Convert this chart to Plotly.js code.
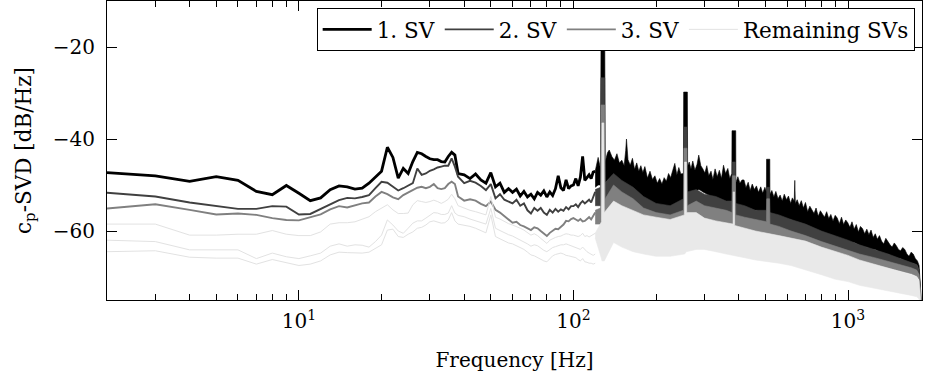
<!DOCTYPE html>
<html><head><meta charset="utf-8">
<script src="https://cdn.plot.ly/plotly-3.0.1.min.js"></script>
<style>html,body{margin:0;padding:0;background:#fff}#chart{width:926px;height:378px}</style>
</head><body><div id="chart"></div>
<script>
// ---- low-frequency range (individual lines) ----
const fLow = [2,3,4,5,6,7,8,9,10,11,12,13,14,15,16,17,18,19,20,21,22,23,24,25,26,27,28,29,30,31,32,33,34,35,36,37,38,
  40,42,44,46,48,50,52,54,56,58,60,62,64,66,68,70,72,74,76,78,80,82,84,86,88,90,92,94,96,98,100,102,104,106,108,110,112,114,116,118,120];
const sv1Low = [-47.3,-48.0,-49.2,-48.2,-49.0,-51.4,-52.1,-50.1,-51.8,-53.4,-52.8,-51.0,-50.2,-50.4,-50.9,-50.7,-49.6,-48.3,-47.0,-41.8,-44.0,-48.5,-46.4,-47.5,-44.9,-42.9,-43.2,-43.8,-44.3,-44.5,-44.5,-44.9,-45.0,-43.8,-42.9,-43.5,-47.5,
  -47.8,-48.6,-47.6,-48.9,-49.6,-47.3,-50.4,-49.6,-51.6,-50.8,-51.6,-50.9,-52.4,-51.4,-52.6,-52.0,-53.0,-51.6,-52.2,-51.3,-52.6,-51.5,-52.3,-50.8,-48.0,-50.6,-51.2,-48.9,-50.8,-50.2,-50.0,-48.6,-50.2,-48.3,-43.8,-49.0,-48.4,-47.8,-48.6,-47.2,-47.0];
const sv2Low = [-51.7,-52.5,-53.8,-54.6,-55.2,-55.2,-54.6,-54.7,-56.4,-56.3,-55.2,-54.1,-53.3,-52.8,-52.9,-52.6,-52.2,-50.7,-49.3,-49.5,-50.4,-51.2,-50.7,-50.2,-49.6,-46.4,-47.8,-47.5,-46.9,-46.6,-46.2,-46.0,-45.8,-45.8,-44.2,-46.0,-48.2,
  -49.6,-49.1,-49.5,-50.2,-51.1,-49.8,-52.9,-52.0,-53.2,-53.6,-54.0,-53.2,-54.5,-54.0,-55.5,-56.2,-55.0,-55.6,-55.0,-56.0,-56.5,-55.4,-56.0,-55.2,-55.8,-55.3,-55.6,-54.8,-55.3,-54.6,-54.6,-54.2,-54.8,-54.0,-53.5,-54.0,-53.6,-53.2,-53.8,-52.8,-51.5];
const sv3Low = [-55.1,-54.2,-55.4,-56.4,-56.2,-56.5,-57.2,-57.6,-57.7,-57.1,-56.4,-55.3,-54.6,-54.9,-54.4,-54.0,-53.8,-52.5,-51.5,-52.0,-52.7,-53.1,-52.2,-51.7,-51.1,-50.6,-50.4,-50.7,-50.4,-49.8,-50.7,-50.9,-50.7,-49.8,-49.3,-49.8,-52.5,
  -53.4,-53.1,-53.4,-54.1,-54.6,-53.6,-55.4,-56.0,-56.8,-57.6,-58.2,-58.0,-58.7,-59.0,-59.5,-59.8,-59.2,-59.4,-60.0,-60.6,-61.1,-60.4,-60.0,-59.5,-59.6,-59.1,-58.6,-57.8,-57.9,-57.4,-57.2,-57.5,-57.8,-57.4,-57.9,-57.8,-57.4,-57.0,-57.5,-56.8,-56.0];
const rem1Low = [-58.5,-58.5,-60.9,-60.9,-60.7,-60.7,-59.9,-60.7,-61.0,-61.0,-60.2,-58.5,-58.2,-58.2,-58.0,-57.5,-56.9,-55.8,-55.1,-54.3,-55.4,-56.2,-56.2,-56.1,-54.3,-53.4,-53.6,-53.8,-53.6,-53.3,-53.6,-54.0,-53.6,-53.1,-52.0,-53.0,-54.5,
  -55.1,-55.5,-55.8,-56.2,-56.5,-52.5,-57.0,-57.4,-58.0,-58.4,-58.7,-59.0,-59.4,-59.8,-60.4,-60.9,-60.6,-61.0,-61.6,-62.2,-62.7,-62.0,-61.6,-61.4,-61.2,-61.1,-60.8,-60.6,-60.7,-60.9,-60.9,-61.0,-61.2,-61.0,-60.5,-61.2,-61.0,-61.3,-61.0,-60.6,-60.5];
const rem2Low = [-62.0,-62.3,-64.1,-64.1,-64.1,-66.0,-64.8,-65.6,-66.0,-65.4,-64.8,-63.3,-62.8,-63.3,-63.0,-63.1,-63.5,-62.3,-60.9,-57.6,-58.7,-60.0,-60.5,-59.4,-58.3,-57.8,-57.8,-57.2,-56.5,-56.0,-56.1,-56.4,-56.4,-56.1,-54.5,-56.1,-56.6,
  -56.9,-57.4,-57.8,-58.2,-58.5,-55.1,-59.4,-59.9,-60.4,-60.8,-61.1,-61.5,-61.9,-62.3,-62.8,-63.3,-63.0,-63.2,-63.8,-64.2,-64.5,-64.0,-63.6,-63.4,-63.2,-63.0,-63.0,-62.8,-63.0,-63.2,-63.3,-63.5,-63.8,-64.0,-63.5,-64.1,-64.5,-64.8,-65.0,-65.3,-65.0];
const rem3Low = [-64.5,-64.3,-65.7,-65.9,-65.9,-67.2,-66.2,-66.9,-67.5,-67.2,-66.5,-65.2,-64.6,-64.7,-64.8,-64.8,-64.6,-63.8,-63.0,-59.8,-59.6,-61.2,-61.4,-60.7,-60.2,-59.4,-59.2,-58.7,-58.0,-57.8,-58.0,-58.3,-58.2,-57.6,-56.0,-57.8,-58.5,
  -58.7,-59.0,-59.4,-59.9,-60.4,-56.5,-61.2,-61.7,-62.2,-62.6,-62.8,-63.2,-63.6,-64.0,-64.6,-65.2,-65.4,-65.8,-66.2,-66.5,-66.7,-66.0,-65.4,-65.1,-65.0,-64.8,-65.0,-65.3,-65.4,-65.5,-65.6,-65.8,-66.2,-66.5,-66.0,-66.7,-66.8,-67.0,-67.0,-67.2,-67.0];

// ---- high-frequency range (dense, oscillating spectra: upper / lower envelopes) ----
const fHi1 = [120,123,125.5,126,130,130.5,133,135,138,141,144,147,150,153,155,156,158,161,164,167,170,173,176,179,182,186,190,194,198,202,206,210,214,218,222,226,230,234,238,242,246,251.5,252,260,260.5,
  264,268,272,277,282,286,291,296,301,306,311,317,322,328,334,340,346,352,358,365,371,377.5,378,390,390.5,397,404,411,418,425,433,440,448,456,464,472,481,489,498,504.5,505,519,519.5,528,537,546,556,566,576,586,597,607,618,627,637,640,643,
  653,664,676,688,700,713,726,739,752,765,779,793,807,821,836,851,866,882,898,914,930,947,964,981,998,1016,1034,1053,1072,1091,1110,1130,1150,1171,1192,1213,1235,1257,1279,1302,1325,1349,1373,1398,1423,1448,1474,1500,1527,1554,1582,1610,1639,1668,1698,1728,1759,1790,1815,1835,1860];
const sv1Upper = [-47.0,-44.0,-46.5,-17.0,-17.0,-45.0,-43.0,-42.4,-43.8,-44.6,-43.2,-45.2,-44.6,-45.8,-42.5,-40.0,-44.5,-45.7,-44.2,-46.6,-45.2,-47.0,-45.8,-47.3,-46.0,-48.5,-47.0,-48.8,-48.0,-49.6,-48.6,-49.8,-48.4,-49.2,-47.5,-48.4,-46.8,-45.3,-47.8,-46.2,-47.6,-47.5,-29.8,-29.8,-46.0,
  -45.0,-46.5,-44.8,-46.8,-45.5,-43.5,-45.8,-46.5,-47.4,-45.8,-48.0,-47.0,-48.8,-46.5,-48.2,-46.8,-48.6,-45.7,-47.5,-46.4,-48.6,-47.5,-38.2,-38.2,-49.5,-48.2,-49.6,-48.9,-48.9,-50.6,-49.4,-51.2,-49.8,-51.0,-50.2,-51.6,-50.4,-51.8,-50.5,-51.5,-44.4,-44.4,-52.0,-51.2,-52.6,-51.4,-53.0,-52.2,-53.5,-52.0,-53.2,-52.4,-54.0,-52.8,-53.5,-49.0,-54.0,
  -53.2,-54.5,-53.4,-55.0,-53.8,-55.8,-54.6,-55.4,-56.2,-55.0,-56.8,-55.6,-56.4,-57.0,-55.8,-57.3,-56.4,-57.8,-56.6,-57.2,-58.4,-57.0,-58.6,-57.6,-58.2,-59.2,-58.0,-59.6,-58.6,-60.2,-59.0,-59.5,-60.6,-59.6,-60.8,-59.8,-61.4,-60.6,-61.8,-61.0,-62.2,-62.8,-61.6,-62.4,-63.0,-63.5,-62.6,-63.2,-64.0,-64.3,-63.6,-64.0,-65.0,-65.5,-64.6,-65.0,-66.0,-66.5,-67.5,-72.0,-80.0];
const sv1Lower = [-50.5,-50.0,-50.0,-50.0,-49.5,-49.5,-49.0,-48.5,-48.0,-48.8,-49.5,-50.0,-49.5,-50.0,-50.0,-50.0,-50.3,-50.7,-51.0,-51.3,-51.7,-52.0,-52.3,-52.7,-53.0,-53.4,-53.8,-54.0,-54.3,-54.5,-54.5,-54.7,-55.0,-55.0,-55.0,-55.0,-55.0,-54.8,-54.5,-54.2,-54.0,-53.5,-53.5,-53.0,-52.5,
  -52.0,-51.5,-51.5,-51.5,-51.2,-51.0,-51.2,-51.5,-51.8,-52.0,-52.2,-52.5,-52.8,-53.0,-53.2,-53.5,-53.5,-53.5,-53.8,-54.0,-54.0,-54.0,-54.0,-54.5,-54.5,-54.5,-54.5,-54.7,-55.0,-55.0,-55.0,-55.2,-55.5,-55.5,-55.5,-55.7,-56.0,-56.0,-56.0,-56.0,-56.0,-56.5,-56.5,-56.5,-56.5,-56.7,-57.0,-57.0,-57.0,-57.2,-57.5,-57.5,-57.5,-57.8,-58.0,-58.0,-58.0,
  -58.2,-58.5,-58.5,-58.5,-58.8,-59.0,-59.2,-59.5,-59.8,-60.0,-60.0,-60.0,-60.2,-60.5,-60.8,-61.0,-61.0,-61.0,-61.2,-61.5,-61.8,-62.0,-62.0,-62.0,-62.2,-62.5,-62.5,-62.5,-62.8,-63.0,-63.2,-63.5,-63.5,-63.5,-63.8,-64.0,-64.0,-64.0,-64.2,-64.5,-64.8,-65.0,-65.0,-65.0,-65.2,-65.5,-65.8,-66.0,-66.0,-66.0,-66.2,-66.5,-66.8,-67.0,-67.0,-67.0,-67.2,-67.5,-68.5,-72.0,-80.0];

const fHi23 = [120,125.5,126,130,130.5,140,150,165,180,200,225,251.5,252.5,259,260,280,300,330,360,378,379,389,390,420,460,504.5,506,518,519.5,560,620,700,800,900,1000,1100,1250,1400,1550,1700,1780,1815,1840,1860];
const sv2Upper = [-51.0,-50.5,-26.7,-26.7,-49.5,-47.5,-49.0,-50.5,-52.5,-54.0,-54.5,-53.0,-37.4,-37.4,-51.5,-51.0,-52.0,-52.5,-53.5,-53.5,-45.0,-45.0,-54.0,-54.5,-55.5,-55.5,-50.5,-50.5,-56.0,-56.5,-57.5,-58.5,-60.0,-61.0,-62.0,-63.0,-64.0,-65.0,-66.0,-66.8,-67.3,-68.5,-73.0,-80.0];
const sv2Lower = [-54.5,-54.5,-54.5,-54.0,-54.0,-52.0,-53.5,-55.0,-56.0,-57.0,-57.5,-56.5,-56.5,-56.0,-56.0,-55.0,-56.2,-57.0,-57.5,-58.0,-58.0,-58.0,-58.0,-58.5,-59.0,-59.5,-59.5,-59.5,-59.5,-60.5,-61.0,-62.0,-62.8,-63.8,-64.5,-65.3,-66.0,-66.8,-67.5,-68.2,-68.7,-69.5,-73.0,-80.0];
const sv3Upper = [-55.5,-55.0,-32.6,-32.6,-53.0,-50.0,-51.5,-53.0,-55.0,-56.0,-56.5,-55.5,-42.0,-42.0,-54.5,-53.5,-54.5,-55.0,-55.5,-56.0,-48.0,-48.0,-56.5,-57.0,-57.5,-58.0,-53.0,-53.0,-58.5,-59.0,-60.0,-61.0,-62.3,-63.3,-64.2,-65.0,-65.8,-66.6,-67.3,-68.0,-68.5,-69.5,-74.0,-80.0];
const sv3Lower = [-58.5,-58.5,-58.5,-58.0,-58.0,-55.0,-56.0,-57.5,-58.5,-59.5,-60.0,-59.0,-59.0,-58.5,-58.5,-57.5,-58.5,-59.0,-59.5,-60.0,-60.0,-60.0,-60.0,-60.5,-61.0,-61.5,-61.5,-61.5,-61.5,-62.0,-62.5,-63.3,-64.2,-65.0,-65.8,-66.5,-67.3,-68.0,-68.7,-69.3,-69.8,-70.5,-74.0,-80.0];

const fHiR = [120,126.5,127,129,129.5,140,150,165,180,200,225,253.5,254,258,258.5,280,300,330,360,381.5,382,386,386.5,420,460,560,620,700,800,900,1000,1100,1250,1400,1550,1700,1780,1815,1840,1860];
const remUpper = [-60.5,-58.0,-36.5,-36.5,-56.0,-53.5,-54.5,-55.5,-56.5,-57.0,-57.5,-56.5,-45.0,-45.0,-56.0,-56.0,-57.2,-57.8,-58.3,-58.5,-51.5,-51.5,-58.8,-59.3,-60.0,-61.0,-61.5,-62.2,-63.5,-64.5,-65.3,-66.3,-67.2,-68.0,-68.8,-69.5,-70.0,-70.8,-75.0,-80.0];
const remLower = [-61.5,-66.0,-66.5,-66.5,-66.5,-62.5,-63.5,-64.5,-65.0,-65.5,-65.5,-65.0,-65.0,-64.5,-64.5,-64.0,-64.0,-64.5,-65.0,-65.2,-65.2,-65.3,-65.3,-65.8,-66.3,-67.0,-67.5,-68.5,-69.5,-70.5,-71.0,-71.8,-72.5,-73.0,-73.5,-74.0,-74.3,-74.8,-77.0,-80.0];

const names = ['1. SV', '2. SV', '3. SV', 'Remaining SVs'];
const minorTicks = [3,4,5,6,7,8,9,20,30,40,50,60,70,80,90,200,300,400,500,600,700,800,900];

const C1 = '#000000', C2 = '#404040', C3 = '#808080', CR = '#e2e2e2', CRB = '#e9e9e9';

function line(y, color, width, name, show) {
  return {x: fLow, y: y, type: 'scatter', mode: 'lines', name: name, showlegend: show,
          line: {color: color, width: width}, hoverinfo: 'skip'};
}
function band(f, up, lo, color) {
  return {x: f.concat(f.slice().reverse()), y: up.concat(lo.slice().reverse()),
          type: 'scatter', mode: 'lines', fill: 'toself', fillcolor: color,
          line: {color: color, width: 0.6}, showlegend: false, hoverinfo: 'skip'};
}

const data = [
  line(sv1Low, C1, 2.8, names[0], true),
  band(fHi1, sv1Upper, sv1Lower, C1),
  line(sv2Low, C2, 1.9, names[1], true),
  band(fHi23, sv2Upper, sv2Lower, C2),
  line(sv3Low, C3, 1.9, names[2], true),
  band(fHi23, sv3Upper, sv3Lower, C3),
  band(fHiR, remUpper, remLower, CRB),
  line(rem1Low, CR, 1.0, names[3], true),
  line(rem2Low, CR, 1.0, names[3], false),
  line(rem3Low, CR, 1.0, names[3], false)
];

const axisFont = {family: 'DejaVu Serif, serif', size: 20, color: '#000'};
const layout = {
  width: 926, height: 378,
  margin: {l: 107, r: 4, t: 1, b: 78, pad: 0},
  paper_bgcolor: '#fff', plot_bgcolor: '#fff',
  font: axisFont,
  hovermode: false,
  showlegend: true,
  legend: {orientation: 'h', x: 0.991, xanchor: 'right', y: 0.977, yanchor: 'top',
           bgcolor: '#fff', bordercolor: '#000', borderwidth: 1,
           font: {family: 'DejaVu Serif, serif', size: 21.5, color: '#000'},
           traceorder: 'normal', itemwidth: 49},
  xaxis: {type: 'log', range: [Math.log10(2), Math.log10(1860)],
          tickmode: 'array', tickvals: [10, 100, 1000],
          ticktext: ['10<sup>1</sup>', '10<sup>2</sup>', '10<sup>3</sup>'],
          ticks: 'inside', ticklen: 10, tickwidth: 1, tickcolor: '#000',
          minor: {tickmode: 'array', tickvals: minorTicks, ticks: 'inside', ticklen: 6, tickwidth: 1, tickcolor: '#000', showgrid: false},
          showline: true, linecolor: '#000', linewidth: 1, mirror: 'ticks',
          showgrid: false, zeroline: false, automargin: false,
          tickfont: axisFont, ticklabelstandoff: 3,
          title: {text: 'Frequency [Hz]', font: axisFont, standoff: 20}},
  yaxis: {range: [-75, -10], tickmode: 'array', tickvals: [-60, -40, -20],
          ticks: 'inside', ticklen: 10, tickwidth: 1, tickcolor: '#000',
          showline: true, linecolor: '#000', linewidth: 1, mirror: 'ticks',
          showgrid: false, zeroline: false, automargin: false,
          tickfont: axisFont, ticklabelstandoff: 7,
          title: {text: 'c<sub>p</sub>-SVD [dB/Hz]', font: {family: 'DejaVu Serif, serif', size: 21.5, color: '#000'}, standoff: 15}}
};

Plotly.newPlot('chart', data, layout, {displayModeBar: false, staticPlot: true});
</script>
</body></html>
